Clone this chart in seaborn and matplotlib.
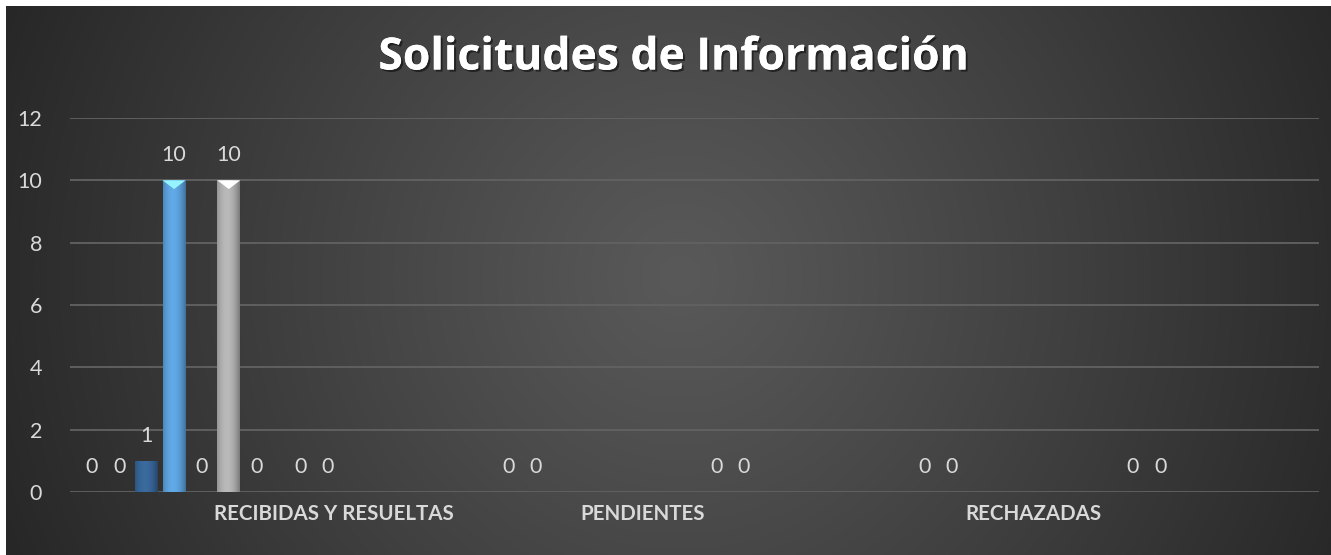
import numpy as np
import pandas as pd
import matplotlib
matplotlib.use("Agg")
import matplotlib.pyplot as plt
import matplotlib.colors as mcolors
import matplotlib.patheffects as pe
import seaborn as sns

# datos (6 grupos de categorias, 7 series)
grupos = [1, 2, 3, 4, 5, 6]
series = ["Serie1", "Serie2", "Serie3", "Serie4", "Serie5", "Serie6", "Serie7"]
serie1 = [0, 0, 0, 0, 0, 0]
serie2 = [0, 0, 0, 0, 0, 0]
serie3 = [1, np.nan, np.nan, np.nan, np.nan, np.nan]
serie4 = [10, np.nan, np.nan, np.nan, np.nan, np.nan]
serie5 = [0, np.nan, np.nan, np.nan, np.nan, np.nan]
serie6 = [10, np.nan, np.nan, np.nan, np.nan, np.nan]
serie7 = [0, np.nan, np.nan, np.nan, np.nan, np.nan]
etiquetas_eje = ["RECIBIDAS Y RESUELTAS", "PENDIENTES", "RECHAZADAS"]
posiciones_eje = [0.77, 2.25, 4.13]
titulo = "Solicitudes de Información"

colores = ["#4472c4", "#ed7d31", "#255e9c", "#4298e2", "#ffc000", "#a5a5a5", "#5b9bd5"]

valores = [serie1, serie2, serie3, serie4, serie5, serie6, serie7]
filas = []
for nombre, vals in zip(series, valores):
    for g, v in zip(grupos, vals):
        filas.append({"grupo": g, "serie": nombre, "valor": v})
df = pd.DataFrame(filas).dropna()

sns.set_theme(style="dark")
plt.rcParams["font.family"] = ["Lato", "DejaVu Sans"]

fig = plt.figure(figsize=(13.31, 5.55), dpi=100)
fig.patch.set_facecolor("white")

# fondo con degradado radial
bg = fig.add_axes([6 / 1331, 0, 1 - 6 / 1331, 1 - 6 / 555])
bg.set_axis_off()
W, H = 1325, 549
yy, xx = np.mgrid[0:H, 0:W]
d = np.sqrt((xx - 674) ** 2 + (yy - 270) ** 2) / 740
d = np.clip(d, 0, 1) ** 1.1
gris = (0x59 + (0x26 - 0x59) * d) / 255
bg.imshow(np.dstack([gris, gris, gris]), aspect="auto", extent=[0, 1, 0, 1])

ax = fig.add_axes([70 / 1331, 63 / 555, 1249 / 1331, 374 / 555])
ax.set_facecolor("none")
ax.set_zorder(2)

sns.barplot(data=df, x="grupo", y="valor", hue="serie", order=grupos, hue_order=series,
            palette=colores, width=0.92, gap=0.16, errorbar=None, legend=False,
            linewidth=0, ax=ax)

ax.set_xlim(-0.5, 5.5)
ax.set_ylim(0, 12)
ax.set_yticks([0, 2, 4, 6, 8, 10, 12])

# sombreado de las barras
for cont in ax.containers:
    for barra in cont:
        h = barra.get_height()
        if not h or np.isnan(h) or h <= 0:
            continue
        x0, y0 = barra.get_xy()
        w = barra.get_width()
        base = np.array(mcolors.to_rgb(barra.get_facecolor()))
        t = np.linspace(-1, 1, 60)
        shade = 1.12 - 0.3 * t ** 2 - 0.08 * t
        img = np.clip(base[None, :] * shade[:, None], 0, 1)[None, :, :]
        im = ax.imshow(img, extent=[x0, x0 + w, y0, y0 + h], aspect="auto", zorder=barra.get_zorder() + 0.1)
        im.set_clip_path(barra)
        if h >= 5:
            tri = plt.Polygon([[x0, y0 + h], [x0 + w, y0 + h], [x0 + w / 2, y0 + h - 0.28]],
                              closed=True, facecolor=np.clip(base * 1.45 + 0.1, 0, 1),
                              edgecolor="none", zorder=barra.get_zorder() + 0.2)
            ax.add_patch(tri)

ax.set_xlim(-0.5, 5.5)
ax.set_ylim(0, 12)

for cont in ax.containers:
    ax.bar_label(cont, labels=[f"{v:g}" for v in cont.datavalues], padding=11,
                 color="#d9d9d9", fontsize=15.5)

ax.grid(axis="y", color="#626262", linewidth=1.3)
ax.grid(axis="x", visible=False)
ax.set_axisbelow(True)
for s in ax.spines.values():
    s.set_visible(False)

ax.set_xticks(posiciones_eje, labels=etiquetas_eje)
ax.tick_params(axis="x", length=0, pad=9, labelsize=14.8, labelcolor="#d9d9d9")
for lbl in ax.get_xticklabels():
    lbl.set_fontweight("bold")
ax.tick_params(axis="y", length=0, pad=20, labelsize=15.5, labelcolor="#d9d9d9")
ax.set_xlabel("")
ax.set_ylabel("")

fig.text(674 / 1331, 1 - 58 / 555, titulo, ha="center", va="center", fontsize=32,
         fontweight="bold", color="white", family=["Open Sans", "DejaVu Sans"],
         path_effects=[pe.withSimplePatchShadow(offset=(1.5, -1.5), shadow_rgbFace="black", alpha=0.5),
                       pe.Normal()])

fig.savefig("out.png", dpi=100)
